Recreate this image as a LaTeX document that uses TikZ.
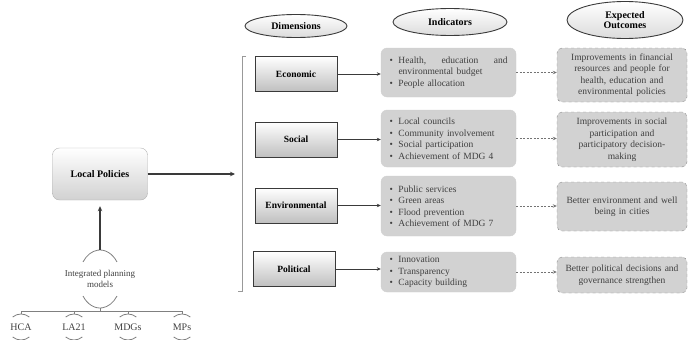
\documentclass[tikz,border=0pt]{standalone}
\usepackage{fontspec}
\setmainfont{Liberation Serif}
\usepackage{tikz}
\usetikzlibrary{arrows.meta,positioning,shapes.geometric}
\definecolor{boxgray}{HTML}{D2D2D2}
\definecolor{txtgray}{HTML}{404040}
\definecolor{edgedark}{HTML}{3A3A3A}
\newcommand{\bul}{\makebox[9pt][l]{\textbullet}}
\newcommand{\gap}{\makebox[9pt]{}}

\begin{document}
\begin{tikzpicture}[x=1pt, y=-1pt,
  header/.style={
    ellipse, draw=edgedark, line width=0.9pt, align=center, inner sep=0pt,
    top color=white, bottom color=black!14, font=\bfseries\fontsize{10}{11}\selectfont
  },
  dimbox/.style={
    draw=edgedark, line width=1pt, minimum width=82pt, minimum height=35pt,
    top color=white, bottom color=black!25, font=\bfseries\fontsize{9.5}{11}\selectfont
  },
  indbox/.style={
    fill=boxgray, draw=black!18, rounded corners=6pt, text width=118pt, inner xsep=8.5pt,
    align=left, text=txtgray, font=\fontsize{9.5}{11.5}\selectfont
  },
  outbox/.style={
    fill=boxgray, draw=black!45, dashed, rounded corners=5pt, text width=122pt, inner xsep=4pt,
    align=center, text=txtgray, font=\fontsize{9.5}{11.5}\selectfont
  },
  lbl/.style={minimum width=26pt, minimum height=26pt, inner sep=0pt, text=txtgray, font=\fontsize{10}{12}\selectfont},
  ringline/.style={draw=black!50, line width=0.8pt},
  treeline/.style={draw=black!50, line width=0.8pt},
  arrow/.style={-{Stealth[length=4pt,width=3.5pt]}, line width=0.6pt, edgedark},
  dotarrow/.style={-{Stealth[length=4pt,width=3.5pt]}, line width=0.7pt, black!55, dash pattern=on 2pt off 1.5pt},
  bigarrow/.style={-{Stealth[length=5pt,width=4.5pt]}, line width=1.2pt, edgedark}
]
\useasboundingbox (0,0) rectangle (689,340);

% column headers
\node[header, minimum width=102pt, minimum height=23pt] (hdim) at (296,26) {Dimensions};
\node[header, minimum width=114pt, minimum height=27pt] (hind) at (450,22) {Indicators};
\node[header, minimum width=116pt, minimum height=37pt] (hout) at (625,20) {Expected\\[-1pt]Outcomes};

% dimensions
\node[dimbox] (econ) at (296,74) {Economic};
\node[dimbox] (soc) at (296,139.5) {Social};
\node[dimbox] (env) at (296,205.5) {Environmental};
\node[dimbox] (pol) at (294,269) {Political};

% indicators
\node[indbox, minimum height=49pt] (econind) at (448.5,72.5)
  {\bul Health,\hfill education\hfill and\\ \gap environmental budget\\ \bul People allocation};
\node[indbox, minimum height=57pt] (socind) at (448.5,138.5)
  {\bul Local councils\\ \bul Community involvement\\ \bul Social participation\\ \bul Achievement of MDG 4};
\node[indbox, minimum height=60pt] (envind) at (448.5,206)
  {\bul Public services\\ \bul Green areas\\ \bul Flood prevention\\ \bul Achievement of MDG 7};
\node[indbox, minimum height=40pt] (polind) at (448.5,272)
  {\bul Innovation\\ \bul Transparency\\ \bul Capacity building};

% expected outcomes
\node[outbox, minimum height=54pt] (econout) at (622,75)
  {Improvements in financial\\resources and people for\\health, education and\\environmental policies};
\node[outbox, minimum height=55pt] (socout) at (622,139.5)
  {Improvements in social\\participation and\\participatory decision-\\making};
\node[outbox, minimum height=49pt] (envout) at (622,206.5)
  {Better environment and well\\being in cities};
\node[outbox, minimum height=36pt] (polout) at (622,275)
  {Better political decisions and\\governance strengthen};

\foreach \d in {econ,soc,env,pol} {
  \draw[arrow] (\d.east) -- (\d.east -| \d ind.west);
  \draw[dotarrow] (\d ind.east) -- (\d ind.east -| \d out.west);
}

% bracket
\draw[draw=black!40, line width=0.8pt] (246,56) -- (242,56) -- (242,291) -- (238,291);
\coordinate (brkin) at (235,174);

% local policies
\node[draw=black!30, rounded corners=7pt, top color=white, bottom color=black!18,
  minimum width=95pt, minimum height=52pt, font=\bfseries\fontsize{10}{12}\selectfont] (lp) at (100,174) {Local Policies};
\draw[bigarrow] (lp.east) -- (brkin);

% integrated planning models
\node[ellipse, minimum width=42pt, minimum height=58pt, inner sep=0pt] (ring) at (100,279) {};
\node[align=center, text=txtgray, font=\fontsize{9}{11}\selectfont] (ipm) at (ring.center) {Integrated planning\\models};
\draw[ringline] ([shift={(36:21pt and 29pt)}]ring.center) arc[start angle=36, end angle=144, x radius=21pt, y radius=29pt];
\draw[ringline] ([shift={(216:21pt and 29pt)}]ring.center) arc[start angle=216, end angle=324, x radius=21pt, y radius=29pt];
\draw[bigarrow, shorten >=6pt] (ring.north) -- (lp.south);

\node[lbl] (hca) at (21,327) {HCA};
\node[lbl] (la) at (74,327) {LA21};
\node[lbl] (mdg) at (128,327) {MDGs};
\node[lbl] (mp) at (182,327) {MPs};

\coordinate (hub) at (100,311);
\draw[treeline] (ring.south) -- (hub);
\foreach \n in {hca,la,mdg,mp} {
  \draw[treeline] (hub) -| (\n.north);
  \draw[ringline] ([shift={(50:13pt)}]\n.center) arc[start angle=50, end angle=130, radius=13pt];
  \draw[ringline] ([shift={(230:13pt)}]\n.center) arc[start angle=230, end angle=310, radius=13pt];
}
\end{tikzpicture}
\end{document}
